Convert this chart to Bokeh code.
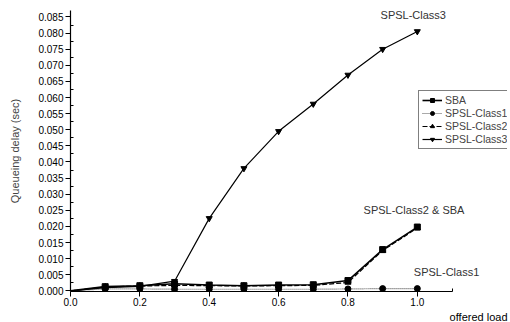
from bokeh.plotting import figure
from bokeh.models import (FixedTicker, NumeralTickFormatter, Label, Legend, LegendItem, Range1d, Title)
from bokeh.embed import file_html
from bokeh.resources import INLINE

# ---- data ----
load = [0.0, 0.1, 0.2, 0.3, 0.4, 0.5, 0.6, 0.7, 0.8, 0.9, 1.0]
sba = [0.0, 0.0013, 0.0016, 0.0022, 0.0018, 0.0016, 0.0018, 0.0019, 0.0032, 0.0128, 0.0198]
class1 = [0.0, 0.0006, 0.0006, 0.0005, 0.0005, 0.0005, 0.0005, 0.0005, 0.0006, 0.0007, 0.0007]
class2 = [0.0, 0.0012, 0.0015, 0.0017, 0.0016, 0.0015, 0.0016, 0.0017, 0.0026, 0.0125, 0.0195]
class3 = [0.0, 0.0010, 0.0014, 0.0030, 0.0225, 0.0380, 0.0495, 0.0580, 0.0670, 0.0750, 0.0805]

x_ticks = [0.0, 0.2, 0.4, 0.6, 0.8, 1.0]
x_minor = [0.1, 0.3, 0.5, 0.7, 0.9, 1.1]
y_ticks = [0.000, 0.005, 0.010, 0.015, 0.020, 0.025, 0.030, 0.035, 0.040,
           0.045, 0.050, 0.055, 0.060, 0.065, 0.070, 0.075, 0.080, 0.085]
y_minor = [0.0025, 0.0075, 0.0125, 0.0175, 0.0225, 0.0275, 0.0325, 0.0375, 0.0425,
           0.0475, 0.0525, 0.0575, 0.0625, 0.0675, 0.0725, 0.0775, 0.0825]

series_names = ["SBA", "SPSL-Class1", "SPSL-Class2", "SPSL-Class3"]

FONT = "Liberation Sans"

p = figure(width=510, height=322, output_backend="svg", toolbar_location=None,
           x_range=Range1d(0, 1.26), y_range=Range1d(-0.0002, 0.087),
           min_border_left=70, min_border_right=3, min_border_top=10, min_border_bottom=10)
p.outline_line_color = None
p.grid.visible = False
p.background_fill_color = "white"
p.border_fill_color = "white"

for ax in (p.xaxis[0], p.yaxis[0]):
    ax.axis_line_color = "black"
    ax.axis_line_width = 1.2
    ax.major_tick_line_color = "black"
    ax.minor_tick_line_color = "black"
    ax.major_tick_out = 5
    ax.major_tick_in = 0
    ax.minor_tick_out = 0
    ax.minor_tick_in = 3
    ax.major_label_text_font = FONT
    ax.major_label_text_font_size = "10px"
    ax.major_label_text_color = "black"
    ax.major_label_standoff = 2

p.xaxis[0].ticker = FixedTicker(ticks=x_ticks, minor_ticks=x_minor)
p.xaxis[0].formatter = NumeralTickFormatter(format="0.0")
p.xaxis[0].bounds = (0, 1.1)
p.xaxis[0].major_label_standoff = 1
p.yaxis[0].ticker = FixedTicker(ticks=y_ticks, minor_ticks=y_minor)
p.yaxis[0].formatter = NumeralTickFormatter(format="0.000")
p.yaxis[0].axis_label = "Queueing delay (sec)"
p.yaxis[0].axis_label_text_font = FONT
p.yaxis[0].axis_label_text_font_size = "11px"
p.yaxis[0].axis_label_text_font_style = "normal"
p.yaxis[0].axis_label_standoff = 14

r_sba_l = p.line(load, sba, line_color="black", line_width=1.6)
r_sba_m = p.scatter(load[1:], sba[1:], marker="square", size=6, color="black")
r_c1_l = p.line(load, class1, line_color="#555555", line_width=1.2, line_dash="1 1")
r_c1_m = p.scatter(load[1:], class1[1:], marker="circle", size=6, color="black")
r_c2_l = p.line(load, class2, line_color="black", line_width=1.2, line_dash="5 2")
r_c2_m = p.scatter(load[1:], class2[1:], marker="triangle", size=6, color="black")
r_c3_l = p.line(load, class3, line_color="black", line_width=1.2)
r_c3_m = p.scatter(load[1:], class3[1:], marker="inverted_triangle", size=6, color="black")

legend = Legend(items=[
    LegendItem(label=series_names[0], renderers=[r_sba_l, r_sba_m]),
    LegendItem(label=series_names[1], renderers=[r_c1_l, r_c1_m]),
    LegendItem(label=series_names[2], renderers=[r_c2_l, r_c2_m]),
    LegendItem(label=series_names[3], renderers=[r_c3_l, r_c3_m]),
], location=(348, 142))
legend.label_text_font = FONT
legend.label_text_font_size = "10.5px"
legend.label_height = 10
legend.glyph_height = 10
legend.glyph_width = 20
legend.label_standoff = 3
legend.spacing = 1
legend.padding = 3
legend.margin = 0
legend.border_line_color = "black"
legend.border_line_width = 1
legend.background_fill_alpha = 1
p.add_layout(legend, "center")

ann_style = dict(text_font=FONT, text_font_size="11px", text_color="#333333", text_baseline="middle")
p.add_layout(Label(x=0.894, y=0.0856, text="SPSL-Class3", **ann_style))
p.add_layout(Label(x=0.845, y=0.025, text="SPSL-Class2 & SBA", **ann_style))
p.add_layout(Label(x=0.99, y=0.0058, text="SPSL-Class1", **ann_style))

p.add_layout(Title(text="offered load", align="right", text_font=FONT, text_font_size="11px",
                   text_font_style="normal", text_color="black", standoff=0, offset=0,
                   text_line_height=0.8), "below")

open("out.html", "w").write(file_html(p, INLINE))
